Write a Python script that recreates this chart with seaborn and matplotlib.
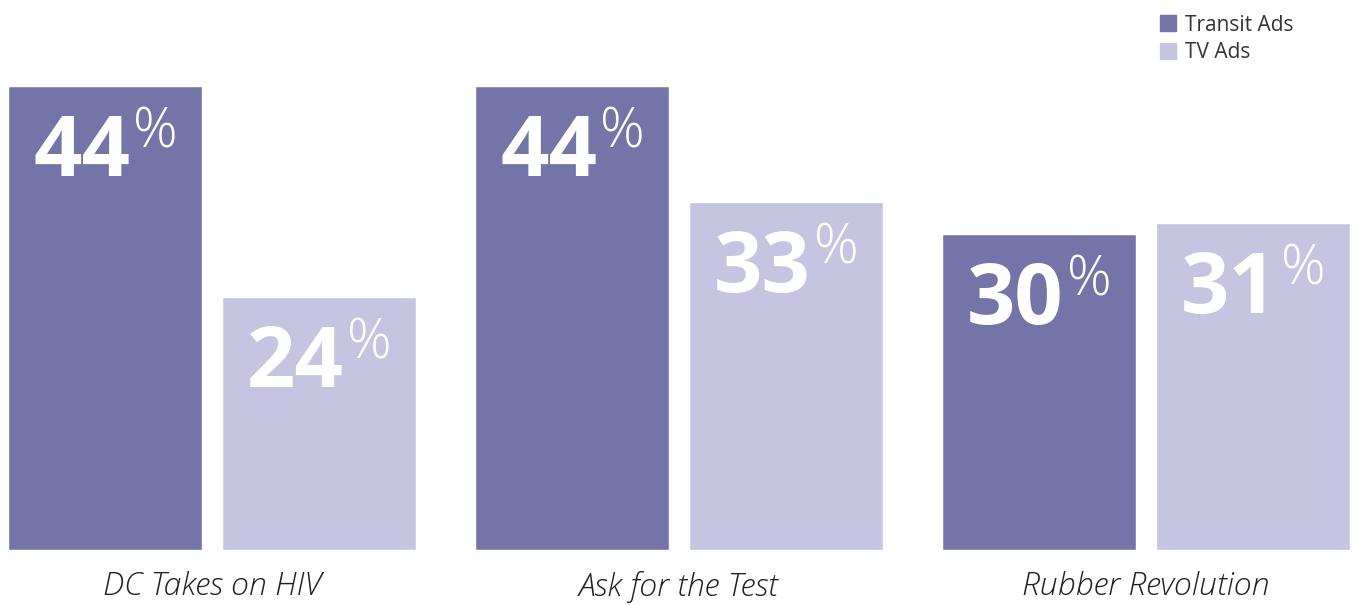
import numpy as np, pandas as pd, matplotlib
matplotlib.use("Agg")
import matplotlib.pyplot as plt
import matplotlib.patches as mpatches
import seaborn as sns

campaigns = ["DC Takes on HIV", "Ask for the Test", "Rubber Revolution"]
series    = ["Transit Ads", "TV Ads"]
transit   = [44, 44, 30]
tv        = [24, 33, 31]
COLORS    = ["#7574A9", "#C5C5E1"]

df = pd.DataFrame({
    "campaign": campaigns * 2,
    "series":   [series[0]] * 3 + [series[1]] * 3,
    "value":    transit + tv,
})

sns.set_style("white")
plt.rcParams["font.family"] = ["Open Sans", "DejaVu Sans"]

fig = plt.figure(figsize=(13.54, 6.05), dpi=100)
ax = fig.add_axes([0, 55/605, 1, 550/605])
sns.barplot(data=df, x="campaign", y="value", hue="series", order=campaigns,
            hue_order=series, palette=COLORS, width=0.9165, gap=0.0935,
            saturation=1, legend=False, ax=ax)

ax.set_xlim(-0.454, 2.445)
ax.set_ylim(0, 52.16)
sns.despine(ax=ax, left=True, bottom=True)
ax.set_yticks([])
ax.set_xlabel(""); ax.set_ylabel("")
ax.tick_params(axis="x", length=0, pad=15)
for lab in ax.get_xticklabels():
    lab.set_fontsize(23); lab.set_fontstyle("italic")
    lab.set_fontweight(300); lab.set_color("#231F20")

# value labels inside bars
vals = transit + tv
for bar, v in zip(ax.patches, vals):
    x0, top = bar.get_x(), bar.get_height()
    ax.annotate(f"{v}", (x0, top), xytext=(18, -65), textcoords="offset points",
                ha="left", va="baseline", color="white", fontsize=61,
                fontweight="bold")
    ax.annotate("%", (x0, top), xytext=(90, -44.5), textcoords="offset points",
                ha="left", va="baseline", color="white", fontsize=40,
                fontweight=300)

handles = [mpatches.Patch(color=c, label=s) for c, s in zip(COLORS, series)]
fig.legend(handles=handles, loc="upper left", bbox_to_anchor=(1145/1354, 1.0),
           frameon=False, fontsize=15, handlelength=0.8, handleheight=0.8,
           handletextpad=0.4, labelspacing=0.3, labelcolor="#333333",
           borderaxespad=0.3)

fig.savefig("out.png", dpi=100)
